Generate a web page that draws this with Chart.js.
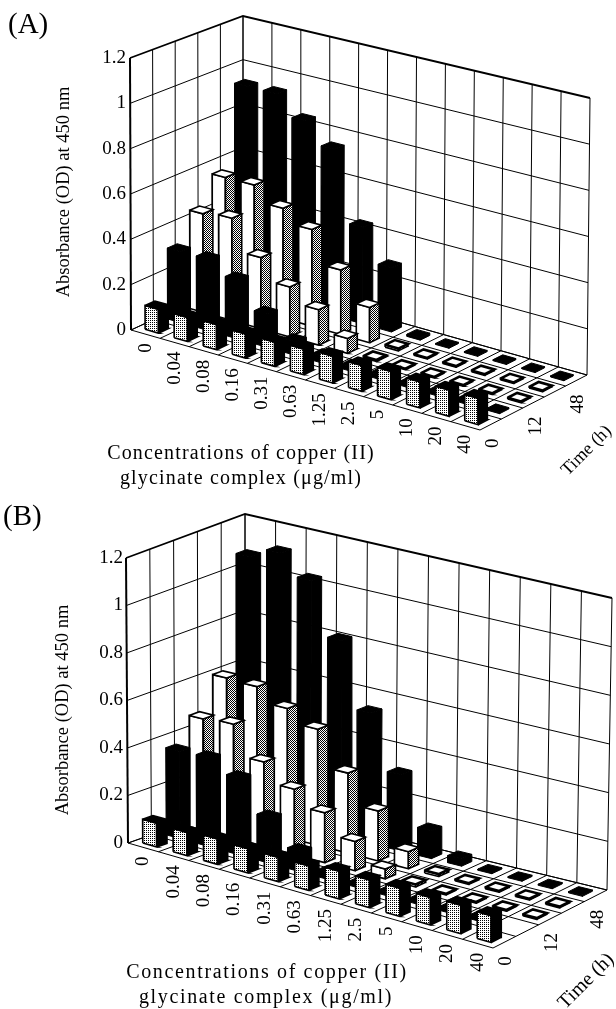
<!DOCTYPE html>
<html>
<head>
<meta charset="utf-8">
<title>Absorbance vs copper (II) glycinate complex</title>
<script src="https://cdn.jsdelivr.net/npm/chart.js@4"></script>
<style>
  html, body { margin: 0; padding: 0; background: #fff; }
  #page { position: relative; width: 616px; height: 1009px; overflow: hidden; }
  canvas { position: absolute; left: 0; }
</style>
</head>
<body>
<div id="page">
  <canvas id="chartA" width="616" height="498" style="top:0"></canvas>
  <canvas id="chartB" width="616" height="511" style="top:498px"></canvas>
</div>
<script>
// categories and ticks
const concLabels = ["0", "0.04", "0.08", "0.16", "0.31", "0.63", "1.25", "2.5", "5", "10", "20", "40"];
const timeLabels = ["0", "", "12", "", "48"];
const absTicks = [0, 0.2, 0.4, 0.6, 0.8, 1, 1.2];

// panel A, one array per time row (front row to back row)
const a_row0 = [0.105, 0.105, 0.11, 0.105, 0.105, 0.11, 0.115, 0.11, 0.12, 0.11, 0.11, 0.11];
const a_row1 = [0.315, 0.315, 0.26, 0.145, 0.06, 0.03, 0.02, 0.02, 0.015, 0.015, 0.015, 0.005];
const a_row2 = [0.44, 0.455, 0.315, 0.22, 0.155, 0.065, 0.007, 0.005, 0.005, 0.005, 0.005, 0.005];
const a_row3 = [0.56, 0.56, 0.49, 0.43, 0.285, 0.155, 0.01, 0.005, 0.005, 0.005, 0.005, 0.005];
const a_row4 = [0.93, 0.93, 0.84, 0.745, 0.43, 0.285, 0.01, 0.005, 0.005, 0.005, 0.005, 0.005];

// panel B
const b_row0 = [0.1, 0.097, 0.105, 0.1, 0.1, 0.1, 0.113, 0.112, 0.113, 0.11, 0.113, 0.105];
const b_row1 = [0.365, 0.37, 0.32, 0.19, 0.085, 0.03, 0.015, 0.015, 0.015, 0.015, 0.015, 0];
const b_row2 = [0.465, 0.475, 0.35, 0.27, 0.205, 0.12, 0.04, 0.01, 0.005, 0.005, 0.005, 0.005];
const b_row3 = [0.6, 0.595, 0.535, 0.48, 0.33, 0.205, 0.07, 0.01, 0.005, 0.005, 0.005, 0.005];
const b_row4 = [1.07, 1.115, 1.03, 0.81, 0.54, 0.315, 0.115, 0.03, 0.005, 0.005, 0.005, 0.005];

// frame of each box in page pixels: floor and top corners, left / front / right / back
const frameA = {
  top: 0, height: 498, unit: 226.7, y0: 330, left: 131,
  floor: [[131, 330], [480, 430], [587, 375], [243, 278]],
  roof: [[130, 58], [477, 140], [590, 98], [243, 16]],
};
const frameB = {
  top: 498, height: 511, unit: 237.5, y0: 843, left: 128,
  floor: [[128, 843], [493, 948], [607, 890], [245, 802]],
  roof: [[126, 558], [493, 642], [612, 598], [245, 514]],
};

// captions, in page pixels
const textA = {
  panel: { s: "(A)", x: 8, y: 33 },
  yTitle: { x: 63, y: 192 },
  cap1: { x: 241, y: 459 }, cap2: { x: 241, y: 484 },
  time: { x: 590, y: 454 }, timeSize: 18, capSize: 20, capGap: 1.17,
};
const textB = {
  panel: { s: "(B)", x: 3, y: 525 },
  yTitle: { x: 62, y: 710 },
  cap1: { x: 267, y: 978 }, cap2: { x: 266, y: 1003 },
  time: { x: 590, y: 985 }, timeSize: 20, capSize: 20, capGap: 1.65,
};

const serif = '"Liberation Serif", serif';
Chart.defaults.font.family = serif;

function stipple(size, dots) {
  const c = document.createElement("canvas");
  c.width = size; c.height = size;
  const g = c.getContext("2d");
  g.fillStyle = "#fff";
  g.fillRect(0, 0, size, size);
  g.fillStyle = "#000";
  dots.forEach(d => g.fillRect(d[0], d[1], 1, 1));
  return g.createPattern(c, "repeat");
}

const lightDots = stipple(2, [[0, 0]]);
const darkDots = stipple(2, [[0, 0], [1, 1]]);

const rowStyles = [
  { front: lightDots, side: "#000", roof: "#000", line: 1.6 },
  { front: "#000", side: "#000", roof: "#000", line: 1 },
  { front: "#fff", side: darkDots, roof: "#fff", line: 1.6 },
  { front: "#fff", side: darkDots, roof: "#fff", line: 1.6 },
  { front: "#000", side: "#000", roof: "#000", line: 1 },
];

function mix(a, b, f) {
  return [a[0] + (b[0] - a[0]) * f, a[1] + (b[1] - a[1]) * f];
}

// u along concentration, t along time, both 0..1, v in absorbance
function project(fr, u, t, v) {
  const bottom = mix(mix(fr.floor[0], fr.floor[1], u), mix(fr.floor[3], fr.floor[2], u), t);
  const upper = mix(mix(fr.roof[0], fr.roof[1], u), mix(fr.roof[3], fr.roof[2], u), t);
  const p = mix(bottom, upper, v / 1.2);
  return { x: p[0], y: (fr.y0 - p[1]) / fr.unit };
}

function lineSet(pts, width) {
  return {
    data: pts, showLine: true, pointRadius: 0, borderColor: "#000",
    borderWidth: width, fill: false, tension: 0, clip: false,
  };
}

function face(pts, color, width) {
  return {
    data: pts.concat([pts[0]]), showLine: true, pointRadius: 0, borderColor: "#000",
    borderWidth: width, backgroundColor: color, fill: "shape", tension: 0, clip: false,
    borderJoinStyle: "miter",
  };
}

function frameSets(fr) {
  const sets = [];
  const rows = timeLabels.length;
  const cols = concLabels.length;
  absTicks.forEach(v => {
    sets.push(lineSet([project(fr, 0, 0, v), project(fr, 0, 1, v), project(fr, 1, 1, v)], v === 1.2 ? 1.8 : 1));
  });
  for (let r = 0; r <= rows; r++) {
    sets.push(lineSet([project(fr, 0, r / rows, 0), project(fr, 0, r / rows, 1.2)], r === 0 ? 2 : 1));
    sets.push(lineSet([project(fr, 0, r / rows, 0), project(fr, 1, r / rows, 0)], 1));
  }
  for (let c = 0; c <= cols; c++) {
    sets.push(lineSet([project(fr, c / cols, 1, 0), project(fr, c / cols, 1, 1.2)], 1));
    sets.push(lineSet([project(fr, c / cols, 0, 0), project(fr, c / cols, 1, 0)], 1));
  }
  return sets;
}

function barSets(fr, rowData) {
  const sets = [];
  const rows = rowData.length;
  const cols = concLabels.length;
  const widthU = 0.46 / cols;
  const widthT = 0.44 / rows;
  // back row first, left to right, so nearer bars paint over farther ones
  for (let r = rows - 1; r >= 0; r--) {
    for (let i = 0; i < cols; i++) {
      const v = rowData[r][i];
      if (v <= 0) continue;
      const st = rowStyles[r];
      const u0 = (i + 0.5) / cols - widthU / 2, u1 = u0 + widthU;
      const t0 = (r + 0.5) / rows - widthT / 2, t1 = t0 + widthT;
      sets.push(face([project(fr, u0, t0, 0), project(fr, u1, t0, 0), project(fr, u1, t0, v), project(fr, u0, t0, v)], st.front, st.line));
      sets.push(face([project(fr, u1, t0, 0), project(fr, u1, t1, 0), project(fr, u1, t1, v), project(fr, u1, t0, v)], st.side, st.line));
      const thick = v < 0.02 && st.front === "#fff" ? 2.6 : st.line;
      sets.push(face([project(fr, u0, t0, v), project(fr, u1, t0, v), project(fr, u1, t1, v), project(fr, u0, t1, v)], st.roof, thick));
    }
  }
  return sets;
}

const boxText = {
  id: "boxText",
  afterDraw(chart, args, opts) {
    const { ctx, scales } = chart;
    const fr = opts.frame, tx = opts.text;
    const at = p => ({ x: scales.x.getPixelForValue(p.x), y: scales.y.getPixelForValue(p.y) });
    const put = (s, x, y, size, angle, align, gap) => {
      ctx.save();
      ctx.translate(x, y - fr.top);
      ctx.rotate(angle);
      ctx.font = size + "px " + serif;
      ctx.letterSpacing = (gap || 0) + "px";
      ctx.fillStyle = "#000";
      ctx.textAlign = align;
      ctx.textBaseline = "alphabetic";
      ctx.fillText(s, 0, 0);
      ctx.restore();
    };
    const cols = concLabels.length, rows = timeLabels.length;
    concLabels.forEach((s, i) => {
      const p = at(project(fr, (i + 0.5) / cols, 0, 0));
      ctx.save();
      ctx.translate(p.x + 5, p.y + 9);
      ctx.rotate(-Math.PI / 2);
      ctx.font = "19px " + serif;
      ctx.fillStyle = "#000";
      ctx.textAlign = "right";
      ctx.fillText(s, 0, 0);
      ctx.restore();
    });
    timeLabels.forEach((s, r) => {
      if (!s) return;
      const p = at(project(fr, 1, (r + 0.5) / rows, 0));
      ctx.save();
      ctx.translate(p.x + 7, p.y + 14);
      ctx.rotate(-Math.PI / 2);
      ctx.font = "19px " + serif;
      ctx.fillStyle = "#000";
      ctx.textAlign = "right";
      ctx.fillText(s, 0, 0);
      ctx.restore();
    });
    put(tx.panel.s, tx.panel.x, tx.panel.y, 29, 0, "left", 0);
    put("Absorbance (OD) at 450 nm", tx.yTitle.x + 6, tx.yTitle.y, 18.5, -Math.PI / 2, "center", 0);
    put("Concentrations of copper (II)", tx.cap1.x, tx.cap1.y, tx.capSize, 0, "center", tx.capGap);
    put("glycinate complex (\u03bcg/ml)", tx.cap2.x, tx.cap2.y, tx.capSize, 0, "center", tx.capGap);
    put("Time (h)", tx.time.x, tx.time.y, tx.timeSize, -Math.PI / 4, "center", 0);
  },
};

function drawPanel(id, fr, tx, rowData) {
  // chart.js paints dataset 0 last, so the painter's order is reversed here
  const datasets = frameSets(fr).concat(barSets(fr, rowData)).reverse();
  new Chart(document.getElementById(id), {
    type: "scatter",
    data: { datasets },
    plugins: [boxText],
    options: {
      responsive: false,
      animation: false,
      events: [],
      layout: { padding: 0 },
      plugins: {
        legend: { display: false },
        tooltip: { enabled: false },
        boxText: { frame: fr, text: tx },
      },
      scales: {
        x: { type: "linear", display: false, min: fr.left, max: 616 },
        y: {
          type: "linear",
          min: (fr.y0 - fr.top - fr.height) / fr.unit,
          max: (fr.y0 - fr.top) / fr.unit,
          border: { display: false },
          grid: { display: false, drawTicks: false },
          afterBuildTicks: s => { s.ticks = absTicks.map(v => ({ value: v })); },
          afterFit: s => { s.width = fr.left; s.paddingTop = 0; s.paddingBottom = 0; },
          ticks: {
            autoSkip: false,
            padding: 5,
            color: "#000",
            font: { size: 19 },
            callback: v => String(v),
          },
        },
      },
    },
  });
}

drawPanel("chartA", frameA, textA, [a_row0, a_row1, a_row2, a_row3, a_row4]);
drawPanel("chartB", frameB, textB, [b_row0, b_row1, b_row2, b_row3, b_row4]);
</script>
</body>
</html>
